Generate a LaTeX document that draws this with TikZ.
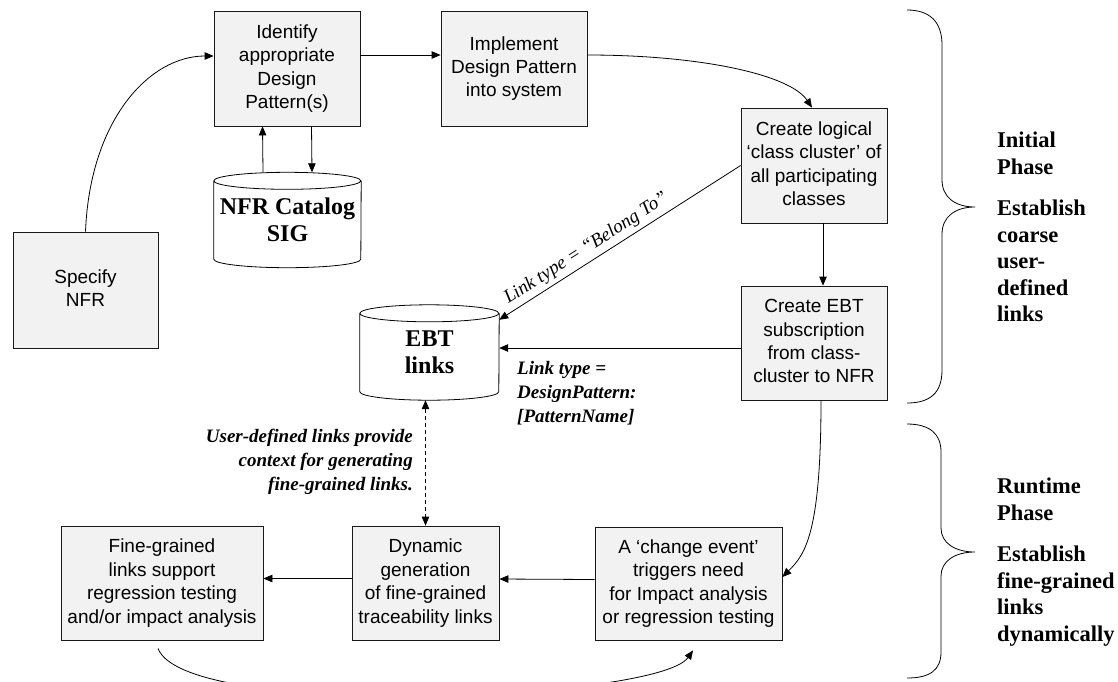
\documentclass[tikz,border=0pt]{standalone}
\usepackage{fontspec}
\setmainfont{Liberation Serif}
\setsansfont{Liberation Sans}
\usepackage{tikz}
\usetikzlibrary{arrows.meta}
\definecolor{boxgray}{RGB}{242,242,242}
\tikzset{%
    stepbox/.style={%
        draw=black!90, fill=boxgray, line width=0.8pt,
        minimum width=146pt, minimum height=115pt,
        align=center, inner sep=2pt,
        font=\sffamily\fontsize{19}{23.4}\selectfont,
        execute at begin node={\rule{0pt}{20pt}},
        execute at end node={\rule[-3.5pt]{0pt}{3.5pt}}
    },
    drum/.style={%
        draw=none, minimum width=147pt, minimum height=95pt,
        align=center, font=\bfseries\fontsize{24}{27}\selectfont,
        execute at begin node={\rule{0pt}{28pt}}
    },
    note/.style={%
        inner sep=0pt, font=\bfseries\itshape\fontsize{19}{24}\selectfont
    },
    phase/.style={%
        inner sep=0pt, anchor=north west, align=left,
        font=\bfseries\fontsize{22.5}{26.5}\selectfont
    },
    flow/.style={->, line width=0.8pt, >={Triangle[length=9pt,width=7.5pt]}}
}

\begin{document}
\begin{tikzpicture}[x=1pt, y=1pt]
    \useasboundingbox (0,0) rectangle (1118,-681);
%-----------------------------------------------
    \node[stepbox] (ident) at (287,-68.5) {Identify\\appropriate\\Design\\Pattern(s)};
    \node[stepbox] (impl) at (514,-68.5) {Implement\\Design Pattern\\into system};
    \node[stepbox] (clust) at (814,-165.5) {Create logical\\‘class cluster’ of\\all participating\\classes};
    \node[stepbox, minimum height=114pt] (subscr) at (814,-343) {Create EBT\\subscription\\from class-\\cluster to NFR};
    \node[stepbox, minimum width=145pt, minimum height=116pt] (spec) at (85.5,-290) {Specify\\NFR};
    \node[stepbox, minimum width=202pt, minimum height=114pt] (fine) at (162,-583) {Fine-grained\\links support\\regression testing\\and/or impact analysis};
    \node[stepbox, minimum width=147pt, minimum height=114pt] (dyn) at (425.5,-583) {Dynamic\\generation\\of fine-grained\\traceability links};
    \node[stepbox, minimum width=187pt, minimum height=113pt] (chg) at (688.5,-583.5) {A ‘change event’\\triggers need\\for Impact analysis\\or regression testing};
%-----------------------------------------------
    \node[drum] (cat) at (287.5,-220) {NFR Catalog\\SIG};
    \node[drum, minimum width=139pt] (ebt) at (429.5,-352.5) {EBT\\links};
    \draw[line width=0.8pt] ([yshift=-8.5pt]cat.north west) arc (180:360:73.5pt and 8.5pt) arc (0:180:73.5pt and 8.5pt)
        -- ([yshift=8.5pt]cat.south west) arc (180:360:73.5pt and 8.5pt) -- ([yshift=-8.5pt]cat.north east);
    \draw[line width=0.8pt] ([yshift=-8.5pt]ebt.north west) arc (180:360:69.5pt and 8.5pt) arc (0:180:69.5pt and 8.5pt)
        -- ([yshift=8.5pt]ebt.south west) arc (180:360:69.5pt and 8.5pt) -- ([yshift=-8.5pt]ebt.north east);
%-----------------------------------------------
    \draw[flow] (spec.north) .. controls +(4.5,112) and +(-64,0) .. ([yshift=12.5pt]ident.west);
    \draw[flow] ([xshift=-24.5pt]cat.north) -- ([xshift=-24.5pt]ident.south);
    \draw[flow] ([xshift=24.5pt]ident.south) -- ([xshift=24.5pt]cat.north);
    \draw[flow] ([yshift=13.5pt]ident.east) -- ([yshift=13.5pt]impl.west);
    \draw[flow] ([yshift=13.5pt]impl.east) .. controls +(113,0) and +(-22,33) .. ([xshift=-2pt]clust.north);
    \draw[flow] ([xshift=9pt]clust.south) -- ([xshift=9pt]subscr.north);
    \draw[flow, <-] ([yshift=-15pt]ebt.north east) -- node[sloped, above, pos=0.39, inner sep=4pt,
        font=\itshape\fontsize{19}{22}\selectfont] (belong) {Link type = “Belong To”} (clust.west);
    \draw[flow] ([yshift=4.5pt]subscr.west |- ebt.east) -- ([yshift=4.5pt]ebt.east);
    \draw[flow, <->, dash pattern=on 4pt off 3pt] (dyn.north |- ebt.south) -- (dyn.north);
    \draw[flow] ([xshift=7pt]subscr.south) .. controls +(0,-135) and +(22,22) .. ([yshift=6.5pt]chg.east);
    \draw[flow] ([yshift=4pt]chg.west) -- ([yshift=4pt]dyn.east);
    \draw[flow] ([yshift=4.5pt]dyn.west) -- ([yshift=4.5pt]fine.east);
    \draw[flow] ([shift={(-4pt,-8pt)}]fine.south) .. controls +(27,-72) and +(-35,-50) .. ([shift={(4.5pt,-10pt)}]chg.south);
%-----------------------------------------------
    \node[note, anchor=north west, align=left] (dpname) at (517,-361) {Link type =\\DesignPattern:\\{[PatternName]}};
    \node[note, anchor=north east, align=right] (ctx) at (413,-429) {User-defined links provide\\context for generating\\fine-grained links.};
%-----------------------------------------------
    \draw[line width=0.8pt] (907,-10) .. controls (930,-10) and (942,-22) .. (942,-45) -- (942,-180)
        .. controls (942,-197) and (955,-207) .. (975,-207) .. controls (955,-207) and (942,-217) .. (942,-234)
        -- (942,-370) .. controls (942,-393) and (930,-403) .. (907,-403);
    \draw[line width=0.8pt] (907,-424) .. controls (930,-424) and (941,-434) .. (941,-452) -- (941,-528)
        .. controls (941,-543) and (955,-552) .. (975,-552) .. controls (955,-552) and (941,-561) .. (941,-576)
        -- (941,-652) .. controls (941,-670) and (930,-678) .. (907,-678);
    \node[phase] (initial) at (997,-132) {Initial\\Phase\\[15pt]Establish\\coarse\\user-\\defined\\links};
    \node[phase] (runtime) at (997,-478) {Runtime\\Phase\\[15pt]Establish\\fine-grained\\links\\dynamically};
\end{tikzpicture}
\end{document}
